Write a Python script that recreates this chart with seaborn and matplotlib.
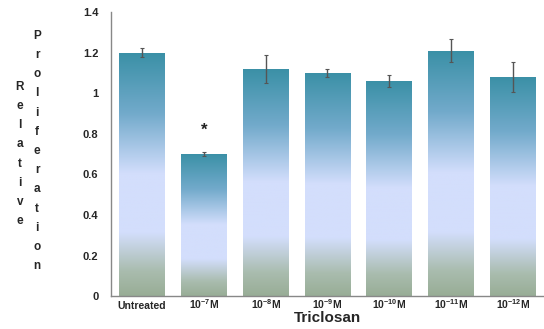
import numpy as np
import pandas as pd
import seaborn as sns
import matplotlib.pyplot as plt
from matplotlib.colors import LinearSegmentedColormap

# data
categories = ["Untreated", "10$^{-7}$M", "10$^{-8}$M", "10$^{-9}$M",
              "10$^{-10}$M", "10$^{-11}$M", "10$^{-12}$M"]
values = [1.20, 0.70, 1.12, 1.10, 1.06, 1.21, 1.08]
errors = [0.022, 0.009, 0.069, 0.021, 0.030, 0.057, 0.075]
yticks = [0, 0.2, 0.4, 0.6, 0.8, 1.0, 1.2, 1.4]
ytick_labels = ["0", "0.2", "0.4", "0.6", "0.8", "1", "1.2", "1.4"]
star_idx = 1
star_y = 0.815

FONT = ["Liberation Sans", "DejaVu Sans"]

sns.set_style("white")
plt.rcParams["font.family"] = FONT
plt.rcParams["mathtext.fontset"] = "custom"
plt.rcParams["mathtext.rm"] = "Liberation Sans:bold"
plt.rcParams["mathtext.it"] = "Liberation Sans:bold"
plt.rcParams["mathtext.bf"] = "Liberation Sans:bold"
plt.rcParams["mathtext.default"] = "rm"

df = pd.DataFrame({"dose": categories, "rel": values})

fig = plt.figure(figsize=(5.44, 3.29), dpi=100)
ax = fig.add_axes([0.204, 0.100, 0.796, 0.8635])

sns.barplot(data=df, x="dose", y="rel", color="#7fb0cf", width=0.74,
            errorbar=None, ax=ax, zorder=2)

# vertical gradient inside each bar (top teal -> lavender -> grey-green)
cmap = LinearSegmentedColormap.from_list("bar", [
    (0.0, "#3a90a6"), (0.25, "#72aacb"), (0.5, "#d3defc"),
    (0.74, "#d3defc"), (0.9, "#a9bcae"), (1.0, "#98ad96")])
grad = np.linspace(0, 1, 256).reshape(-1, 1)
for p in ax.patches:
    x0, y0 = p.get_x(), p.get_y()
    w, h = p.get_width(), p.get_height()
    im = ax.imshow(grad, cmap=cmap, aspect="auto", extent=[x0, x0 + w, y0, y0 + h],
                   origin="upper", zorder=2.5)
    im.set_clip_path(p)
    p.set_edgecolor("none")

ax.errorbar(range(len(categories)), values, yerr=errors, fmt="none",
            ecolor="#555555", elinewidth=1, capsize=1.5, capthick=0.8, zorder=3)
ax.text(star_idx, star_y, "*", ha="center", va="center", fontsize=12,
        fontweight="bold", color="#222222")

ax.set_xlim(-0.5, len(categories) - 0.5)
ax.set_ylim(0, 1.4)
ax.set_yticks(yticks)
ax.set_yticklabels(ytick_labels, fontsize=8, fontweight="bold")
ax.set_xticks(range(len(categories)))
ax.set_xticklabels(categories, fontsize=7.5, fontweight="bold")
for lab in ax.get_xticklabels():
    lab.set_verticalalignment("baseline")
ax.set_xticks(np.arange(-0.5, len(categories), 1), minor=True)
ax.tick_params(axis="x", which="major", length=0, pad=9.5)
ax.tick_params(axis="x", which="minor", length=3, color="#999999", direction="out")
ax.tick_params(axis="y", length=3, color="#bbbbbb", direction="out", pad=6)
ax.set_xlabel("Triclosan", fontsize=11, fontweight="bold")
ax.xaxis.set_label_coords(0.5, -0.052)
ax.set_ylabel("")

for s in ["top", "right"]:
    ax.spines[s].set_visible(False)
for s in ["left", "bottom"]:
    ax.spines[s].set_color("#888888")
    ax.spines[s].set_linewidth(1)

# stacked y-axis label, one letter per line
fig.text(20 / 544, 1 - 154 / 329, "\n".join("Relative"), ha="center", va="center",
         fontsize=8.5, fontweight="bold", linespacing=1.8)
fig.text(37 / 544, 1 - 151 / 329, "\n".join("Proliferation"), ha="center", va="center",
         fontsize=8.5, fontweight="bold", linespacing=1.8)

fig.savefig("out.png", dpi=100)
